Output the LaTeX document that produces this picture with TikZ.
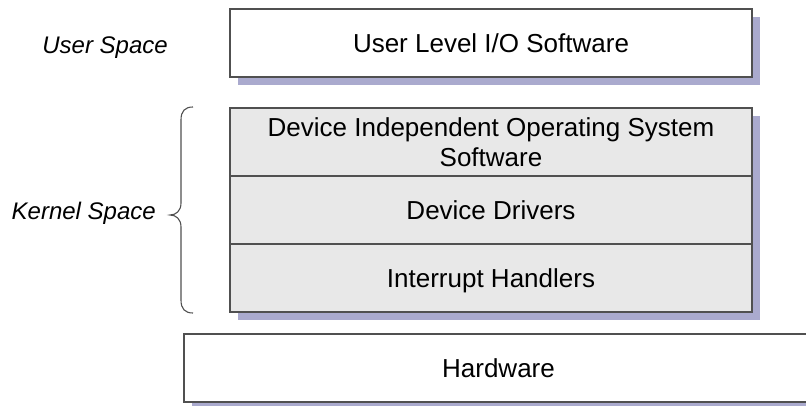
\documentclass[tikz,border=0pt]{standalone}
\usepackage{fontspec}
\setmainfont{Liberation Sans}
\usetikzlibrary{shadows}
\definecolor{edge}{RGB}{80,80,80}
\definecolor{layerfill}{RGB}{232,232,232}
\definecolor{shadecol}{RGB}{170,170,206}
\tikzset{
  layer/.style={draw=edge, line width=1.4pt, rectangle, inner sep=0pt,
    minimum width=522pt, minimum height=68pt,
    text height=19pt, text depth=0pt,
    font=\fontsize{26}{30}\selectfont,
    drop shadow={shadow xshift=8pt, shadow yshift=-8pt, fill=shadecol, opacity=1}},
  plainlayer/.style={layer, fill=white},
  kernellayer/.style={layer, fill=layerfill},
  spacelabel/.style={anchor=base east, inner sep=0pt,
    font=\fontsize{24}{28}\selectfont\itshape},
  bracket/.style={draw=edge, line width=1.1pt}
}
\begin{document}
\begin{tikzpicture}[x=1pt, y=-1pt]
  \useasboundingbox (0,0) rectangle (806,406);

  % user-level layer
  \node[plainlayer] (user) at (491,43) {User Level I/O Software};

  % kernel layers, stacked
  \node[kernellayer, text height=49pt, align=center] (indep) at (491,142)
    {Device Independent Operating System\\Software};
  \node[kernellayer] (drivers) at (491,210) {Device Drivers};
  \node[kernellayer] (irq) at (491,278) {Interrupt Handlers};

  % hardware layer, running past the right edge
  \node[plainlayer, minimum width=629pt] (hw) at (498.5,368) {Hardware};

  % side labels
  \node[spacelabel] (ulabel) at (168,54) {User Space};
  \node[spacelabel] (klabel) at (156,220) {Kernel Space};

  % curly bracket grouping the kernel layers
  \draw[bracket] (193,107) .. controls (185,107) and (181,111) .. (181,120)
    -- (181,203) .. controls (181,211) and (176,215) .. (170,215)
    .. controls (176,215) and (181,219) .. (181,227)
    -- (181,300) .. controls (181,309) and (185,313) .. (193,313);
\end{tikzpicture}
\end{document}
